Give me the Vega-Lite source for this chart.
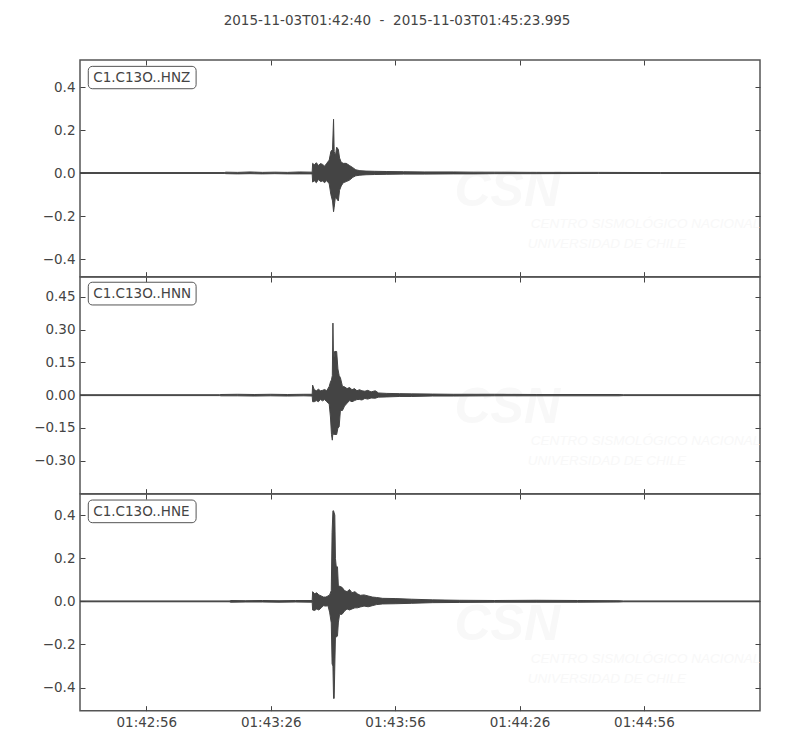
{
  "$schema": "https://vega.github.io/schema/vega-lite/v6.json",
  "background": "white",
  "padding": {"left": 32, "top": 14, "right": 5, "bottom": 5},
  "bounds": "flush",
  "title": {"text": "2015-11-03T01:42:40\u00a0\u00a0-\u00a0\u00a02015-11-03T01:45:23.995", "font": "DejaVu Sans", "fontSize": 13.5, "fontWeight": "normal", "color": "#444", "anchor": "middle", "frame": "bounds", "offset": 31},
  "spacing": 0,
  "datasets": {
    "trace": [
      {"ch":"HNZ","t":0,"hi":0.002,"lo":-0.002},{"ch":"HNZ","t":34.8,"hi":0.002,"lo":-0.002},{"ch":"HNZ","t":35.2,"hi":0.004,"lo":-0.003},{"ch":"HNZ","t":38,"hi":0.003,"lo":-0.004},{"ch":"HNZ","t":41,"hi":0.005,"lo":-0.003},{"ch":"HNZ","t":44,"hi":0.003,"lo":-0.004},{"ch":"HNZ","t":47,"hi":0.004,"lo":-0.003},{"ch":"HNZ","t":50,"hi":0.003,"lo":-0.004},{"ch":"HNZ","t":53,"hi":0.005,"lo":-0.004},{"ch":"HNZ","t":56.0,"hi":0.004,"lo":-0.004},{"ch":"HNZ","t":56.1,"hi":0.045,"lo":-0.042},{"ch":"HNZ","t":56.5,"hi":0.038,"lo":-0.036},{"ch":"HNZ","t":57.0,"hi":0.048,"lo":-0.045},{"ch":"HNZ","t":57.5,"hi":0.035,"lo":-0.03},{"ch":"HNZ","t":58.0,"hi":0.044,"lo":-0.04},{"ch":"HNZ","t":58.5,"hi":0.04,"lo":-0.037},{"ch":"HNZ","t":59.0,"hi":0.032,"lo":-0.045},{"ch":"HNZ","t":59.5,"hi":0.045,"lo":-0.035},{"ch":"HNZ","t":60.1,"hi":0.06,"lo":-0.05},{"ch":"HNZ","t":60.5,"hi":0.1,"lo":-0.1},{"ch":"HNZ","t":60.9,"hi":0.11,"lo":-0.13},{"ch":"HNZ","t":61.15,"hi":0.25,"lo":-0.18},{"ch":"HNZ","t":61.3,"hi":0.1,"lo":-0.16},{"ch":"HNZ","t":61.6,"hi":0.08,"lo":-0.11},{"ch":"HNZ","t":61.9,"hi":0.12,"lo":-0.12},{"ch":"HNZ","t":62.3,"hi":0.11,"lo":-0.13},{"ch":"HNZ","t":62.6,"hi":0.07,"lo":-0.08},{"ch":"HNZ","t":63.0,"hi":0.05,"lo":-0.06},{"ch":"HNZ","t":63.5,"hi":0.045,"lo":-0.045},{"ch":"HNZ","t":64.2,"hi":0.045,"lo":-0.04},{"ch":"HNZ","t":65.0,"hi":0.035,"lo":-0.033},{"ch":"HNZ","t":65.8,"hi":0.025,"lo":-0.02},{"ch":"HNZ","t":66.5,"hi":0.015,"lo":-0.013},{"ch":"HNZ","t":67.5,"hi":0.011,"lo":-0.01},{"ch":"HNZ","t":69,"hi":0.009,"lo":-0.008},{"ch":"HNZ","t":71,"hi":0.008,"lo":-0.007},{"ch":"HNZ","t":74,"hi":0.007,"lo":-0.006},{"ch":"HNZ","t":78,"hi":0.006,"lo":-0.005},{"ch":"HNZ","t":83,"hi":0.005,"lo":-0.005},{"ch":"HNZ","t":90,"hi":0.005,"lo":-0.004},{"ch":"HNZ","t":95,"hi":0.004,"lo":-0.004},{"ch":"HNZ","t":100,"hi":0.004,"lo":-0.003},{"ch":"HNZ","t":110,"hi":0.003,"lo":-0.003},{"ch":"HNZ","t":125,"hi":0.003,"lo":-0.002},{"ch":"HNZ","t":140,"hi":0.002,"lo":-0.002},{"ch":"HNZ","t":163.99,"hi":0.002,"lo":-0.002},
      {"ch":"HNN","t":0,"hi":0.002,"lo":-0.002},{"ch":"HNN","t":33.7,"hi":0.002,"lo":-0.002},{"ch":"HNN","t":34,"hi":0.003,"lo":-0.003},{"ch":"HNN","t":38,"hi":0.004,"lo":-0.003},{"ch":"HNN","t":42,"hi":0.003,"lo":-0.004},{"ch":"HNN","t":46,"hi":0.004,"lo":-0.003},{"ch":"HNN","t":50,"hi":0.003,"lo":-0.004},{"ch":"HNN","t":54,"hi":0.004,"lo":-0.003},{"ch":"HNN","t":56.0,"hi":0.004,"lo":-0.004},{"ch":"HNN","t":56.1,"hi":0.046,"lo":-0.03},{"ch":"HNN","t":56.5,"hi":0.025,"lo":-0.03},{"ch":"HNN","t":57.0,"hi":0.02,"lo":-0.025},{"ch":"HNN","t":57.5,"hi":0.027,"lo":-0.03},{"ch":"HNN","t":58.0,"hi":0.02,"lo":-0.02},{"ch":"HNN","t":58.5,"hi":0.022,"lo":-0.026},{"ch":"HNN","t":59.0,"hi":0.026,"lo":-0.02},{"ch":"HNN","t":59.5,"hi":0.02,"lo":-0.03},{"ch":"HNN","t":60.1,"hi":0.04,"lo":-0.04},{"ch":"HNN","t":60.4,"hi":0.06,"lo":-0.1},{"ch":"HNN","t":60.65,"hi":0.07,"lo":-0.18},{"ch":"HNN","t":60.85,"hi":0.09,"lo":-0.206},{"ch":"HNN","t":61.0,"hi":0.33,"lo":-0.17},{"ch":"HNN","t":61.15,"hi":0.15,"lo":-0.18},{"ch":"HNN","t":61.4,"hi":0.2,"lo":-0.18},{"ch":"HNN","t":61.9,"hi":0.2,"lo":-0.18},{"ch":"HNN","t":62.2,"hi":0.12,"lo":-0.15},{"ch":"HNN","t":62.5,"hi":0.09,"lo":-0.145},{"ch":"HNN","t":62.8,"hi":0.08,"lo":-0.07},{"ch":"HNN","t":63.3,"hi":0.04,"lo":-0.07},{"ch":"HNN","t":63.8,"hi":0.038,"lo":-0.05},{"ch":"HNN","t":64.4,"hi":0.03,"lo":-0.037},{"ch":"HNN","t":65.0,"hi":0.035,"lo":-0.025},{"ch":"HNN","t":65.6,"hi":0.025,"lo":-0.03},{"ch":"HNN","t":66.2,"hi":0.03,"lo":-0.025},{"ch":"HNN","t":66.8,"hi":0.02,"lo":-0.02},{"ch":"HNN","t":67.4,"hi":0.025,"lo":-0.02},{"ch":"HNN","t":68.0,"hi":0.02,"lo":-0.022},{"ch":"HNN","t":68.7,"hi":0.018,"lo":-0.015},{"ch":"HNN","t":69.4,"hi":0.022,"lo":-0.018},{"ch":"HNN","t":70.2,"hi":0.015,"lo":-0.013},{"ch":"HNN","t":71.2,"hi":0.02,"lo":-0.014},{"ch":"HNN","t":72,"hi":0.01,"lo":-0.009},{"ch":"HNN","t":74,"hi":0.008,"lo":-0.008},{"ch":"HNN","t":77,"hi":0.007,"lo":-0.006},{"ch":"HNN","t":80,"hi":0.006,"lo":-0.006},{"ch":"HNN","t":85,"hi":0.005,"lo":-0.004},{"ch":"HNN","t":90,"hi":0.004,"lo":-0.004},{"ch":"HNN","t":100,"hi":0.004,"lo":-0.003},{"ch":"HNN","t":110,"hi":0.003,"lo":-0.003},{"ch":"HNN","t":130,"hi":0.003,"lo":-0.003},{"ch":"HNN","t":131,"hi":0.002,"lo":-0.002},{"ch":"HNN","t":163.99,"hi":0.002,"lo":-0.002},
      {"ch":"HNE","t":0,"hi":0.002,"lo":-0.002},{"ch":"HNE","t":36,"hi":0.002,"lo":-0.002},{"ch":"HNE","t":36.3,"hi":0.004,"lo":-0.004},{"ch":"HNE","t":40,"hi":0.003,"lo":-0.003},{"ch":"HNE","t":44,"hi":0.004,"lo":-0.003},{"ch":"HNE","t":48,"hi":0.003,"lo":-0.004},{"ch":"HNE","t":52,"hi":0.004,"lo":-0.003},{"ch":"HNE","t":56.0,"hi":0.004,"lo":-0.004},{"ch":"HNE","t":56.1,"hi":0.045,"lo":-0.04},{"ch":"HNE","t":56.6,"hi":0.035,"lo":-0.042},{"ch":"HNE","t":57.1,"hi":0.04,"lo":-0.035},{"ch":"HNE","t":57.6,"hi":0.03,"lo":-0.04},{"ch":"HNE","t":58.2,"hi":0.025,"lo":-0.03},{"ch":"HNE","t":58.7,"hi":0.02,"lo":-0.02},{"ch":"HNE","t":59.3,"hi":0.02,"lo":-0.022},{"ch":"HNE","t":59.8,"hi":0.025,"lo":-0.02},{"ch":"HNE","t":60.2,"hi":0.03,"lo":-0.05},{"ch":"HNE","t":60.6,"hi":0.05,"lo":-0.1},{"ch":"HNE","t":60.8,"hi":0.32,"lo":-0.29},{"ch":"HNE","t":61.0,"hi":0.42,"lo":-0.3},{"ch":"HNE","t":61.15,"hi":0.42,"lo":-0.45},{"ch":"HNE","t":61.3,"hi":0.41,"lo":-0.45},{"ch":"HNE","t":61.45,"hi":0.4,"lo":-0.3},{"ch":"HNE","t":61.6,"hi":0.2,"lo":-0.166},{"ch":"HNE","t":61.8,"hi":0.16,"lo":-0.166},{"ch":"HNE","t":62.1,"hi":0.16,"lo":-0.16},{"ch":"HNE","t":62.3,"hi":0.075,"lo":-0.1},{"ch":"HNE","t":62.6,"hi":0.07,"lo":-0.06},{"ch":"HNE","t":63.2,"hi":0.065,"lo":-0.06},{"ch":"HNE","t":63.8,"hi":0.05,"lo":-0.045},{"ch":"HNE","t":64.4,"hi":0.045,"lo":-0.035},{"ch":"HNE","t":65.0,"hi":0.055,"lo":-0.04},{"ch":"HNE","t":65.6,"hi":0.04,"lo":-0.035},{"ch":"HNE","t":66.3,"hi":0.045,"lo":-0.03},{"ch":"HNE","t":66.9,"hi":0.035,"lo":-0.03},{"ch":"HNE","t":67.6,"hi":0.028,"lo":-0.026},{"ch":"HNE","t":68.5,"hi":0.03,"lo":-0.022},{"ch":"HNE","t":69.5,"hi":0.025,"lo":-0.025},{"ch":"HNE","t":70.5,"hi":0.02,"lo":-0.02},{"ch":"HNE","t":71.5,"hi":0.018,"lo":-0.015},{"ch":"HNE","t":73,"hi":0.014,"lo":-0.012},{"ch":"HNE","t":76,"hi":0.013,"lo":-0.011},{"ch":"HNE","t":80,"hi":0.01,"lo":-0.009},{"ch":"HNE","t":85,"hi":0.007,"lo":-0.006},{"ch":"HNE","t":91.5,"hi":0.005,"lo":-0.005},{"ch":"HNE","t":100,"hi":0.004,"lo":-0.004},{"ch":"HNE","t":110,"hi":0.005,"lo":-0.004},{"ch":"HNE","t":120,"hi":0.004,"lo":-0.004},{"ch":"HNE","t":130,"hi":0.003,"lo":-0.003},{"ch":"HNE","t":131,"hi":0.002,"lo":-0.002},{"ch":"HNE","t":163.99,"hi":0.002,"lo":-0.002}
    ],
    "labels": [
      {"ch":"HNZ","name":"C1.C13O..HNZ","x1":2.0,"x2":28.0,"y1":0.496,"y2":0.392,"tx":3.2,"ty":0.423},
      {"ch":"HNN","name":"C1.C13O..HNN","x1":2.0,"x2":28.0,"y1":0.517,"y2":0.413,"tx":3.2,"ty":0.445},
      {"ch":"HNE","name":"C1.C13O..HNE","x1":2.0,"x2":28.0,"y1":0.47,"y2":0.365,"tx":3.2,"ty":0.395}
    ],
    "wm": [
      {"ch":"HNZ","kind":"logo","text":"CSN","t":90.3,"v":-0.153},
      {"ch":"HNZ","kind":"sub","text":"CENTRO SISMOLÓGICO NACIONAL","t":108.7,"v":-0.256},
      {"ch":"HNZ","kind":"sub","text":"UNIVERSIDAD DE CHILE","t":108.0,"v":-0.349},
      {"ch":"HNN","kind":"logo","text":"CSN","t":90.3,"v":-0.128},
      {"ch":"HNN","kind":"sub","text":"CENTRO SISMOLÓGICO NACIONAL","t":108.7,"v":-0.229},
      {"ch":"HNN","kind":"sub","text":"UNIVERSIDAD DE CHILE","t":108.0,"v":-0.321},
      {"ch":"HNE","kind":"logo","text":"CSN","t":90.3,"v":-0.181},
      {"ch":"HNE","kind":"sub","text":"CENTRO SISMOLÓGICO NACIONAL","t":108.7,"v":-0.284},
      {"ch":"HNE","kind":"sub","text":"UNIVERSIDAD DE CHILE","t":108.0,"v":-0.377}
    ]
  },
  "vconcat": [
    {
      "width": 680, "height": 216.67,
      "resolve": {"axis": {"x": "independent", "y": "independent"}},
      "layer": [
        {"data": {"name": "wm"}, "transform": [{"filter": "datum.ch === 'HNZ' && datum.kind === 'logo'"}],
         "mark": {"type": "text", "font": "Liberation Sans", "fontWeight": "bold", "fontStyle": "italic", "fontSize": 50, "align": "left", "baseline": "alphabetic", "color": "#f8f8f8"},
         "encoding": {"x": {"field": "t", "type": "quantitative", "axis": {"orient": "top", "labels": false, "values": [16,46,76,106,136], "title": null}},
                      "y": {"field": "v", "type": "quantitative", "axis": {"orient": "right", "labels": false, "values": [-0.4,-0.2,0,0.2,0.4], "title": null}},
                      "text": {"field": "text"}}},
        {"data": {"name": "wm"}, "transform": [{"filter": "datum.ch === 'HNZ' && datum.kind === 'sub'"}],
         "mark": {"type": "text", "font": "Liberation Sans", "fontStyle": "italic", "fontSize": 13.5, "align": "left", "baseline": "alphabetic", "color": "#f8f8f8"},
         "encoding": {"x": {"field": "t", "type": "quantitative", "axis": null}, "y": {"field": "v", "type": "quantitative", "axis": null}, "text": {"field": "text"}}},
        {"data": {"name": "trace"}, "transform": [{"filter": "datum.ch === 'HNZ'"}],
         "mark": {"type": "area", "color": "#444", "stroke": "#444", "strokeWidth": 1, "clip": true},
         "encoding": {"x": {"field": "t", "type": "quantitative", "scale": {"domain": [0, 163.995], "nice": false, "zero": false}, "axis": {"orient": "bottom", "labels": false, "values": [16,46,76,106,136], "title": null}},
                      "y": {"field": "hi", "type": "quantitative", "scale": {"domain": [-0.482, 0.5256], "nice": false, "zero": false}, "axis": {"orient": "left", "values": [-0.4,-0.2,0,0.2,0.4], "format": ".1f", "title": null}},
                      "y2": {"field": "lo"}}},
        {"data": {"name": "labels"}, "transform": [{"filter": "datum.ch === 'HNZ'"}],
         "mark": {"type": "rect", "fill": "white", "stroke": "#555", "strokeWidth": 1, "cornerRadius": 4},
         "encoding": {"x": {"field": "x1", "type": "quantitative", "axis": null}, "x2": {"field": "x2"}, "y": {"field": "y1", "type": "quantitative", "axis": null}, "y2": {"field": "y2"}}},
        {"data": {"name": "labels"}, "transform": [{"filter": "datum.ch === 'HNZ'"}],
         "mark": {"type": "text", "font": "DejaVu Sans", "fontSize": 13.5, "align": "left", "baseline": "alphabetic", "color": "#444"},
         "encoding": {"x": {"field": "tx", "type": "quantitative", "axis": null}, "y": {"field": "ty", "type": "quantitative", "axis": null}, "text": {"field": "name"}}}
      ]
    },
    {
      "width": 680, "height": 216.67,
      "resolve": {"axis": {"x": "independent", "y": "independent"}},
      "layer": [
        {"data": {"name": "wm"}, "transform": [{"filter": "datum.ch === 'HNN' && datum.kind === 'logo'"}],
         "mark": {"type": "text", "font": "Liberation Sans", "fontWeight": "bold", "fontStyle": "italic", "fontSize": 50, "align": "left", "baseline": "alphabetic", "color": "#f8f8f8"},
         "encoding": {"x": {"field": "t", "type": "quantitative", "axis": {"orient": "top", "labels": false, "values": [16,46,76,106,136], "title": null}},
                      "y": {"field": "v", "type": "quantitative", "axis": {"orient": "right", "labels": false, "values": [-0.3,-0.15,0,0.15,0.3,0.45], "title": null}},
                      "text": {"field": "text"}}},
        {"data": {"name": "wm"}, "transform": [{"filter": "datum.ch === 'HNN' && datum.kind === 'sub'"}],
         "mark": {"type": "text", "font": "Liberation Sans", "fontStyle": "italic", "fontSize": 13.5, "align": "left", "baseline": "alphabetic", "color": "#f8f8f8"},
         "encoding": {"x": {"field": "t", "type": "quantitative", "axis": null}, "y": {"field": "v", "type": "quantitative", "axis": null}, "text": {"field": "text"}}},
        {"data": {"name": "trace"}, "transform": [{"filter": "datum.ch === 'HNN'"}],
         "mark": {"type": "area", "color": "#444", "stroke": "#444", "strokeWidth": 1, "clip": true},
         "encoding": {"x": {"field": "t", "type": "quantitative", "scale": {"domain": [0, 163.995], "nice": false, "zero": false}, "axis": {"orient": "bottom", "labels": false, "values": [16,46,76,106,136], "title": null}},
                      "y": {"field": "hi", "type": "quantitative", "scale": {"domain": [-0.451, 0.541], "nice": false, "zero": false}, "axis": {"orient": "left", "values": [-0.3,-0.15,0,0.15,0.3,0.45], "format": ".2f", "title": null}},
                      "y2": {"field": "lo"}}},
        {"data": {"name": "labels"}, "transform": [{"filter": "datum.ch === 'HNN'"}],
         "mark": {"type": "rect", "fill": "white", "stroke": "#555", "strokeWidth": 1, "cornerRadius": 4},
         "encoding": {"x": {"field": "x1", "type": "quantitative", "axis": null}, "x2": {"field": "x2"}, "y": {"field": "y1", "type": "quantitative", "axis": null}, "y2": {"field": "y2"}}},
        {"data": {"name": "labels"}, "transform": [{"filter": "datum.ch === 'HNN'"}],
         "mark": {"type": "text", "font": "DejaVu Sans", "fontSize": 13.5, "align": "left", "baseline": "alphabetic", "color": "#444"},
         "encoding": {"x": {"field": "tx", "type": "quantitative", "axis": null}, "y": {"field": "ty", "type": "quantitative", "axis": null}, "text": {"field": "name"}}}
      ]
    },
    {
      "width": 680, "height": 216.67,
      "resolve": {"axis": {"x": "independent", "y": "independent"}},
      "layer": [
        {"data": {"name": "wm"}, "transform": [{"filter": "datum.ch === 'HNE' && datum.kind === 'logo'"}],
         "mark": {"type": "text", "font": "Liberation Sans", "fontWeight": "bold", "fontStyle": "italic", "fontSize": 50, "align": "left", "baseline": "alphabetic", "color": "#f8f8f8"},
         "encoding": {"x": {"field": "t", "type": "quantitative", "axis": {"orient": "top", "labels": false, "values": [16,46,76,106,136], "title": null}},
                      "y": {"field": "v", "type": "quantitative", "axis": {"orient": "right", "labels": false, "values": [-0.4,-0.2,0,0.2,0.4], "title": null}},
                      "text": {"field": "text"}}},
        {"data": {"name": "wm"}, "transform": [{"filter": "datum.ch === 'HNE' && datum.kind === 'sub'"}],
         "mark": {"type": "text", "font": "Liberation Sans", "fontStyle": "italic", "fontSize": 13.5, "align": "left", "baseline": "alphabetic", "color": "#f8f8f8"},
         "encoding": {"x": {"field": "t", "type": "quantitative", "axis": null}, "y": {"field": "v", "type": "quantitative", "axis": null}, "text": {"field": "text"}}},
        {"data": {"name": "trace"}, "transform": [{"filter": "datum.ch === 'HNE'"}],
         "mark": {"type": "area", "color": "#444", "stroke": "#444", "strokeWidth": 1, "clip": true},
         "encoding": {"x": {"field": "t", "type": "quantitative", "scale": {"domain": [0, 163.995], "nice": false, "zero": false}, "axis": {"orient": "bottom", "values": [16,46,76,106,136], "labelExpr": "timeFormat(datetime(2015, 10, 3, 1, 42, 40 + datum.value), '%H:%M:%S')", "title": null}},
                      "y": {"field": "hi", "type": "quantitative", "scale": {"domain": [-0.507, 0.498], "nice": false, "zero": false}, "axis": {"orient": "left", "values": [-0.4,-0.2,0,0.2,0.4], "format": ".1f", "title": null}},
                      "y2": {"field": "lo"}}},
        {"data": {"name": "labels"}, "transform": [{"filter": "datum.ch === 'HNE'"}],
         "mark": {"type": "rect", "fill": "white", "stroke": "#555", "strokeWidth": 1, "cornerRadius": 4},
         "encoding": {"x": {"field": "x1", "type": "quantitative", "axis": null}, "x2": {"field": "x2"}, "y": {"field": "y1", "type": "quantitative", "axis": null}, "y2": {"field": "y2"}}},
        {"data": {"name": "labels"}, "transform": [{"filter": "datum.ch === 'HNE'"}],
         "mark": {"type": "text", "font": "DejaVu Sans", "fontSize": 13.5, "align": "left", "baseline": "alphabetic", "color": "#444"},
         "encoding": {"x": {"field": "tx", "type": "quantitative", "axis": null}, "y": {"field": "ty", "type": "quantitative", "axis": null}, "text": {"field": "name"}}}
      ]
    }
  ],
  "config": {
    "view": {"stroke": "#555", "strokeWidth": 1.5},
    "axis": {"domain": false, "grid": false, "tickSize": -5, "tickColor": "#444", "tickWidth": 1, "labelFont": "DejaVu Sans", "labelFontSize": 13.5, "labelColor": "#444", "labelPadding": 10}
  }
}
